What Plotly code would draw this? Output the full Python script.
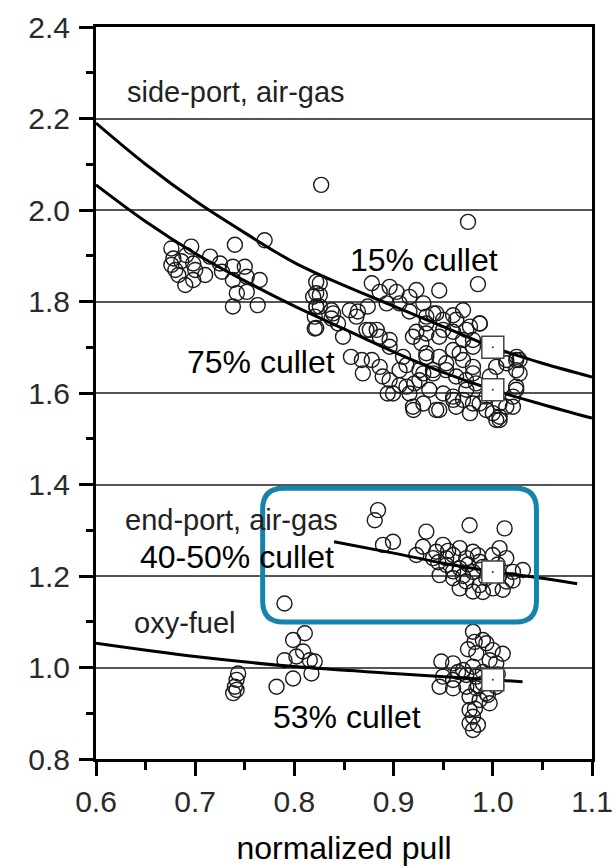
import plotly.graph_objects as go

# ---------------- data ----------------
# side-port, air-gas scatter
side_x = [0.676, 0.678, 0.676, 0.680, 0.683, 0.690, 0.698, 0.696, 0.698, 0.700, 0.710, 0.715,
          0.725, 0.727, 0.740, 0.738, 0.738, 0.742, 0.738, 0.750, 0.752, 0.752, 0.765, 0.763,
          0.770, 0.686, 0.691, 0.822, 0.822, 0.822, 0.822, 0.827, 0.975, 0.985, 0.946,
          0.8256, 0.8256, 0.8222, 0.8205, 0.8374, 0.8374, 0.844, 0.849, 0.864, 0.874, 0.876,
          0.878, 0.886, 0.883, 0.896, 0.857, 0.868, 0.869, 0.878, 0.886, 0.889, 0.896, 0.894,
          0.906, 0.906, 0.913, 0.916, 0.920, 0.921, 0.926, 0.928, 0.923, 0.916, 0.906, 0.903,
          0.896, 0.916, 0.923, 0.893, 0.933, 0.933,
          0.930, 0.940, 0.950, 0.960, 0.970, 0.987, 0.977, 0.933, 0.946, 0.960, 0.970, 0.980,
          0.933, 0.946, 0.960, 0.970, 0.980, 0.930, 0.940, 0.953, 0.963, 0.973, 0.983, 0.936,
          0.950, 0.960, 0.970, 0.980, 0.946, 0.963, 0.977, 0.9935, 1.0068, 1.0136, 1.0203,
          1.0236, 1.0236, 1.027, 1.0136, 1.0035, 0.997, 1.0068, 0.9935, 1.0035, 1.024, 0.930,
          0.8189, 0.8256, 0.8205, 0.839, 0.8558, 0.8625, 0.8726, 0.886, 0.896, 0.9095, 0.9195,
          0.933, 0.943, 0.950, 0.9632, 0.9733, 0.980, 0.9867, 0.9666, 0.953, 0.9397, 0.926,
          0.913, 0.8994, 0.9195, 0.943, 0.960, 0.9733, 0.9867, 1.000, 1.0068, 1.0203, 1.0236,
          1.027, 1.0236, 1.0136, 0.980]
side_y = [1.916, 1.894, 1.880, 1.869, 1.858, 1.836, 1.847, 1.920, 1.883, 1.869, 1.858, 1.898,
          1.883, 1.865, 1.924, 1.876, 1.847, 1.818, 1.789, 1.876, 1.854, 1.821, 1.847, 1.792,
          1.934, 1.888, 1.901, 1.843, 1.818, 1.789, 1.742, 2.055, 1.974, 1.838, 1.824,
          1.840, 1.814, 1.789, 1.741, 1.781, 1.763, 1.752, 1.723, 1.778, 1.789, 1.738,
          1.840, 1.821, 1.738, 1.716, 1.679, 1.672, 1.643, 1.672, 1.657, 1.636, 1.628, 1.599,
          1.650, 1.617, 1.661, 1.599, 1.563, 1.621, 1.650, 1.709, 1.734, 1.778, 1.796, 1.821,
          1.832, 1.810, 1.825, 1.796, 1.767, 1.679,
          1.796, 1.774, 1.760, 1.770, 1.781, 1.752, 1.745, 1.730, 1.723, 1.734, 1.716, 1.701,
          1.687, 1.679, 1.694, 1.672, 1.657, 1.643, 1.643, 1.650, 1.636, 1.628, 1.621, 1.607,
          1.599, 1.592, 1.585, 1.577, 1.563, 1.570, 1.556, 1.563, 1.548, 1.570, 1.592,
          1.614, 1.650, 1.672, 1.672, 1.657, 1.636, 1.577, 1.592, 1.541, 1.679, 1.577,
          1.8105, 1.7887, 1.767, 1.774, 1.781, 1.767, 1.738, 1.723, 1.701, 1.679, 1.723,
          1.752, 1.774, 1.738, 1.760, 1.738, 1.716, 1.752, 1.687, 1.665, 1.650, 1.628,
          1.614, 1.599, 1.570, 1.563, 1.585, 1.607, 1.577, 1.556, 1.541, 1.570, 1.607,
          1.643, 1.672, 1.665, 1.643]

# end-port, air-gas scatter
end_x = [0.8843, 0.881, 0.933, 0.9766, 1.0119, 0.8893, 0.8994, 0.9296, 0.943, 0.9498, 0.960,
         0.9666, 0.9733, 0.980, 0.9867, 1.000, 1.0068, 1.0136, 0.9532, 0.9666, 0.980, 0.9934,
         1.0068, 1.0203, 1.0303, 0.9464, 0.960, 0.9733, 0.9867, 1.000, 1.0136, 0.9666, 0.980,
         0.9397, 0.9229, 0.953, 0.790,
         0.990, 0.975, 1.005, 0.985, 0.960, 1.020, 1.010, 0.990, 0.970, 0.955, 0.945]
end_y = [1.344, 1.322, 1.297, 1.311, 1.304, 1.268, 1.275, 1.264, 1.253, 1.268, 1.246,
         1.261, 1.239, 1.253, 1.231, 1.246, 1.261, 1.239, 1.224, 1.217, 1.209, 1.195,
         1.202, 1.209, 1.213, 1.202, 1.195, 1.188, 1.180, 1.173, 1.188, 1.173, 1.166,
         1.239, 1.246, 1.239, 1.140,
         1.220, 1.225, 1.225, 1.245, 1.210, 1.190, 1.170, 1.165, 1.200, 1.255, 1.230]

# oxy-fuel scatter
oxy_x = [0.7433, 0.7417, 0.740, 0.7383, 0.7417, 0.782, 0.7987, 0.790, 0.7987, 0.8105, 0.8088,
         0.8155, 0.8205, 0.8172, 0.802,
         0.980, 0.9817, 0.9935, 1.000, 0.9834, 0.9968, 1.0035, 0.9481, 0.960, 0.970, 0.980,
         0.9498, 0.960, 0.9733, 0.9834, 0.9464, 0.960, 0.9733, 0.9834, 0.9766, 0.9867, 0.9968,
         0.9766, 0.980, 0.9766, 0.980, 0.9935, 1.0035,
         0.990, 1.010, 0.965, 0.985, 0.990, 0.975, 0.995, 0.982, 0.985, 0.990, 1.005]
oxy_y = [0.987, 0.973, 0.958, 0.944, 0.951, 0.958, 0.976, 1.016, 1.060, 1.075, 1.035,
         1.016, 1.013, 0.987, 1.024,
         1.078, 1.056, 1.053, 1.038, 1.031, 1.016, 1.009, 1.013, 1.009, 0.9945, 1.0018,
         0.980, 0.9727, 0.9836, 0.980, 0.958, 0.9545, 0.958, 0.9545, 0.936, 0.929, 0.9217,
         0.907, 0.8925, 0.878, 0.8634, 0.9436, 0.958,
         0.990, 1.030, 0.990, 0.960, 1.060, 1.040, 0.940, 0.910, 0.875, 0.965, 0.985]

# fitted curves
cullet15_x = [0.6, 0.65, 0.7, 0.75, 0.8, 0.85, 0.9, 0.95, 1.0, 1.05, 1.1]
cullet15_y = [2.19, 2.10, 2.02, 1.95, 1.885, 1.835, 1.79, 1.745, 1.70, 1.665, 1.635]
cullet75_x = [0.6, 0.65, 0.7, 0.75, 0.8, 0.85, 0.9, 0.95, 1.0, 1.05, 1.1]
cullet75_y = [2.055, 1.975, 1.905, 1.845, 1.79, 1.74, 1.69, 1.645, 1.607, 1.575, 1.545]
endport_x = [0.84, 0.9, 0.95, 1.0, 1.05, 1.085]
endport_y = [1.275, 1.25, 1.228, 1.21, 1.195, 1.183]
oxyfuel_x = [0.6, 0.7, 0.8, 0.9, 1.0, 1.03]
oxyfuel_y = [1.053, 1.024, 1.002, 0.987, 0.973, 0.969]

# reference squares at normalized pull = 1.0
ref_x = [1.0, 1.0, 1.0, 1.0]
ref_y = [1.70, 1.607, 1.209, 0.973]

y_ticks = [0.8, 1.0, 1.2, 1.4, 1.6, 1.8, 2.0, 2.2, 2.4]
x_ticks = [0.6, 0.7, 0.8, 0.9, 1.0, 1.1]

# ---------------- figure ----------------
FONT = "Liberation Sans, Arial, sans-serif"
fig = go.Figure()

circle_marker = dict(symbol="circle-open", size=15, color="#1a1a1a", line=dict(width=1.4, color="#1a1a1a"))
for xs, ys in [(side_x, side_y), (end_x, end_y), (oxy_x, oxy_y)]:
    fig.add_trace(go.Scatter(x=xs, y=ys, mode="markers", marker=circle_marker,
                             showlegend=False, hoverinfo="skip"))

for xs, ys in [(cullet15_x, cullet15_y), (cullet75_x, cullet75_y),
               (endport_x, endport_y), (oxyfuel_x, oxyfuel_y)]:
    fig.add_trace(go.Scatter(x=xs, y=ys, mode="lines", line=dict(color="black", width=3, shape="spline"),
                             showlegend=False, hoverinfo="skip"))

fig.add_trace(go.Scatter(x=ref_x, y=ref_y, mode="markers",
                         marker=dict(symbol="square", size=22, color="white",
                                     line=dict(width=1.5, color="#444")),
                         showlegend=False, hoverinfo="skip"))
fig.add_trace(go.Scatter(x=ref_x, y=ref_y, mode="markers",
                         marker=dict(symbol="circle", size=2, color="#333"),
                         showlegend=False, hoverinfo="skip"))

# rounded highlight box
L, R, T, B = 0.768, 1.044, 1.392, 1.0995
rx, ry = 0.021, 0.046
path = (f"M {L+rx},{T} L {R-rx},{T} Q {R},{T} {R},{T-ry} L {R},{B+ry} Q {R},{B} {R-rx},{B} "
        f"L {L+rx},{B} Q {L},{B} {L},{B+ry} L {L},{T-ry} Q {L},{T} {L+rx},{T} Z")
fig.add_shape(type="path", path=path, xref="x", yref="y",
              line=dict(color="#1683ad", width=5), layer="above")

# labels
small = dict(family=FONT, size=29, color="#222")
big = dict(family=FONT, size=32, color="black")
fig.add_annotation(x=0.629, y=2.258, text="side-port, air-gas", showarrow=False, xanchor="left", font=small)
fig.add_annotation(x=0.627, y=1.322, text="end-port, air-gas", showarrow=False, xanchor="left", font=small)
fig.add_annotation(x=0.636, y=1.097, text="oxy-fuel", showarrow=False, xanchor="left", font=small)
fig.add_annotation(x=0.931, y=1.891, text="15% cullet", showarrow=False, font=big)
fig.add_annotation(x=0.766, y=1.668, text="75% cullet", showarrow=False, font=big)
fig.add_annotation(x=0.7425, y=1.2415, text="40-50% cullet", showarrow=False, font=big)
fig.add_annotation(x=0.8528, y=0.892, text="53% cullet", showarrow=False, font=big)

fig.update_xaxes(range=[0.6, 1.1], tickvals=x_ticks, ticktext=[f"{v:.1f}" for v in x_ticks],
                 ticks="outside", ticklen=14, tickwidth=2.5, tickcolor="black",
                 showline=True, linewidth=3, linecolor="black", mirror=True,
                 showgrid=False, zeroline=False, automargin=False,
                 minor=dict(tickvals=[0.65, 0.75, 0.85, 0.95, 1.05], ticks="outside", ticklen=8,
                            tickwidth=2.5, tickcolor="black", showgrid=False),
                 tickfont=dict(family=FONT, size=30, color="#2a2a2a"),
                 title=dict(text="normalized pull", font=dict(family=FONT, size=32, color="black"), standoff=22))
fig.update_yaxes(range=[0.8, 2.4], tickvals=y_ticks, ticktext=[f"{v:.1f}" for v in y_ticks],
                 ticks="outside", ticklen=14, tickwidth=2.5, tickcolor="black",
                 showline=True, linewidth=3, linecolor="black", mirror=True,
                 showgrid=True, gridcolor="#555", gridwidth=2, zeroline=False, automargin=False,
                 minor=dict(tickvals=[0.9, 1.1, 1.3, 1.5, 1.7, 1.9, 2.1, 2.3], ticks="outside", ticklen=7,
                            tickwidth=2.5, tickcolor="black", showgrid=False),
                 tickfont=dict(family=FONT, size=30, color="#2a2a2a"), ticklabelstandoff=3)

fig.update_layout(width=616, height=866, margin=dict(l=96, r=24, t=27, b=107),
                  paper_bgcolor="white", plot_bgcolor="white", showlegend=False)

fig.write_html("out.html")
